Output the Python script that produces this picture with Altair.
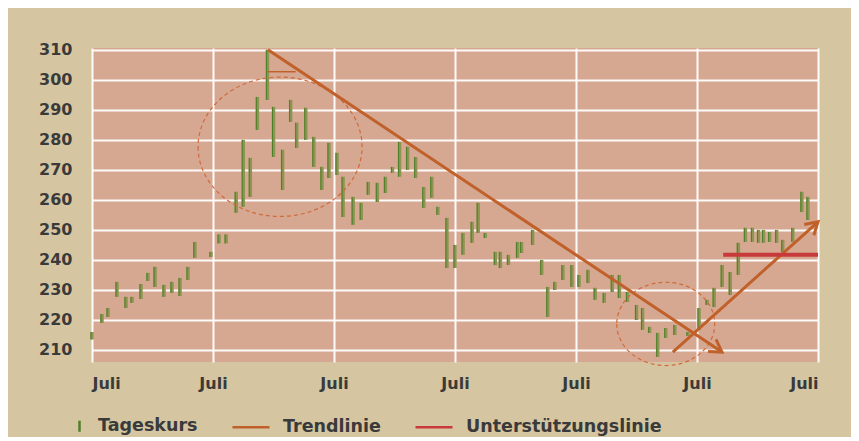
import altair as alt
import pandas as pd

# ---- daily price bars (month index from first "Juli", low, high) ----
bar_month = [0.0, 0.99, 1.59, 2.48, 3.37, 3.97, 4.86, 5.55, 6.25, 7.14, 7.93, 8.73, 9.52, 10.2,
             11.8, 12.6, 13.3, 14.3, 15.0, 15.7, 16.4, 17.4, 18.0, 18.9, 19.7, 20.3, 21.2, 22.0,
             22.8, 23.5, 24.3, 24.9, 25.9, 26.7, 27.4, 28.3, 29.1, 29.8, 30.5, 31.3, 32.1, 32.9,
             33.7, 34.3, 35.2, 36.0, 36.8, 37.7, 38.3, 39.0, 40.0, 40.5, 41.3, 42.2, 42.6, 43.7,
             44.6, 45.2, 45.9, 46.7, 47.6, 48.3, 49.2, 49.9, 50.8, 51.6, 52.3, 53.1, 54.0, 54.6,
             55.3, 56.1, 56.9, 57.8, 59.1, 60.2, 61.0, 61.7, 62.5, 63.3, 64.1, 64.8, 65.5, 66.1,
             66.6, 67.2, 67.9, 68.5, 69.5, 70.4, 71.0]
bar_low = [213.5, 219, 221, 227.7, 224, 225.7, 227, 233, 231, 227.7, 229, 228, 233.3, 240.7,
           241, 245.5, 245.5, 255.7, 257.7, 261, 283.3, 293.3, 274.3, 263.3, 286, 277.3, 280, 271,
           263.3, 267.3, 268.3, 254.3, 251.7, 253.3, 261.7, 259.3, 262.3, 269, 267.7, 270, 267.3, 257.3,
           260.7, 255, 237.3, 237.3, 241.7, 245.7, 249, 247.3, 238.3, 237.3, 238.3, 240.7, 242.3, 245,
           235, 221, 230, 233.3, 231, 231, 232.3, 226.7, 225.7, 229.3, 227.3, 226, 220, 216.7,
           215.7, 207.7, 214, 215, 214.7, 216.7, 225, 224.3, 231, 228.3, 235, 246, 246, 245.7,
           245.7, 246, 245.7, 242.7, 246, 256, 253.3]
bar_high = [216, 222, 224, 232.7, 227.7, 227.7, 232, 235.7, 237.7, 231.7, 232.7, 234, 237.7, 246,
            242.7, 248.5, 248.5, 262.7, 280, 274, 294.3, 310, 291, 276.7, 293.3, 285.7, 290.7, 281,
            271, 279, 275.7, 267.7, 261, 259, 266, 265.7, 267.7, 271, 279.3, 277.7, 274.3, 264.3,
            267.7, 257.7, 254, 245, 249, 252.7, 259, 249, 242.7, 242.7, 241.7, 246, 246, 250,
            240, 231, 232.7, 238.3, 238.3, 235, 236.7, 230.7, 229, 235, 235, 229.3, 225, 224,
            217.7, 215.7, 217.3, 218.3, 216, 224, 226.7, 230.7, 238.3, 236, 245.7, 250.7, 250.7, 250,
            250, 249.3, 250, 246.7, 250.7, 262.7, 261]

# ---- annotation lines ----
trend_month = [17.45, 62.48]
trend_value = [310.0, 209.3]
rise_month = [57.6, 72.0]
rise_value = [209.3, 252.7]
support_month = [62.6, 72.0]
support_value = [241.7, 241.7]
peak_month = [17.4, 20.2]
peak_value = [302.7, 302.7]
arrow_month = [62.48, 72.0]
arrow_value = [209.3, 252.7]
circle_month = [18.65, 56.9]
circle_value = [277.7, 218.7]

# ---- labels ----
y_ticks = [210, 220, 230, 240, 250, 260, 270, 280, 290, 300, 310]
x_ticks = [0, 12, 24, 36, 48, 60, 72]
x_label = "Juli"
legend_names = ["Tageskurs", "Trendlinie", "Unterstützungslinie"]

# colours / styles
OUTER = "#d5c6a1"
PLOT = "#d6a891"
BAR = "#8e9452"
BAR_LINE = "#4e7f2c"
TREND = "#c0602a"
SUPPORT = "#c8393b"
TEXT = "#3a3a3a"
FONT = "DejaVu Sans"

bars = pd.DataFrame({"m": bar_month, "lo": bar_low, "hi": bar_high})
lines = pd.DataFrame({
    "m": trend_month + rise_month,
    "v": trend_value + rise_value,
    "id": ["down", "down", "up", "up"],
})
support = pd.DataFrame({"m": support_month, "v": support_value})
peak = pd.DataFrame({"m": peak_month, "v": peak_value})
arrows = pd.DataFrame({"m": arrow_month, "v": arrow_value, "ang": [33.6, 318.1]})
circles = pd.DataFrame({"m": circle_month, "v": circle_value, "s": [164 ** 2, 98 ** 2]})
legend_df = pd.DataFrame({"series": legend_names})

x_scale = alt.Scale(domain=[0, 72], nice=False, zero=False)
y_scale = alt.Scale(domain=[206, 310.6], nice=False, zero=False)

x_axis = alt.Axis(values=x_ticks, labelExpr=f"'{x_label}'", title=None, grid=True,
                  tickCount=20, labelOverlap=False,
                  ticks=False, domain=False, labelPadding=13, labelFontSize=16,
                  labelFontWeight="bold", labelColor=TEXT, labelFont=FONT,
                  gridColor="white", gridWidth=2, gridOpacity=0.95)
y_axis = alt.Axis(values=y_ticks, title=None, grid=True, ticks=False, domain=False,
                  tickCount=20, labelOverlap=False,
                  labelPadding=20, labelFontSize=16, labelColor=TEXT, labelFont=FONT,
                  labelFontWeight="bold",
                  gridColor="white", gridWidth=2, gridOpacity=0.95)

X = alt.X("m:Q", scale=x_scale, axis=x_axis)
Y = alt.Y("v:Q", scale=y_scale, axis=y_axis)

bar_layer = alt.Chart(bars).mark_rule(color=BAR, strokeWidth=3.5).encode(
    x=alt.X("m:Q", scale=x_scale, axis=x_axis),
    y=alt.Y("lo:Q", scale=y_scale, axis=y_axis),
    y2="hi:Q",
)
bar_line_layer = alt.Chart(bars).mark_rule(color=BAR_LINE, strokeWidth=1, xOffset=-1).encode(
    x="m:Q", y="lo:Q", y2="hi:Q",
)

trend_layer = alt.Chart(lines).mark_line(color=TREND, strokeWidth=3).encode(
    x=X, y=Y, detail="id:N"
)
peak_layer = alt.Chart(peak).mark_line(color=TREND, strokeWidth=1.5).encode(x="m:Q", y="v:Q")
support_layer = alt.Chart(support).mark_line(color=SUPPORT, strokeWidth=4).encode(x="m:Q", y="v:Q")

arrow_layer = alt.Chart(arrows).mark_point(
    shape="M-1,-0.6L0,0L-1,0.6", filled=False, color=TREND, strokeWidth=3, size=576, opacity=1
).encode(x="m:Q", y="v:Q", angle=alt.Angle("ang:Q", scale=None))

circle_layer = alt.Chart(circles).mark_point(
    shape="M-1,0A1,0.85,0,1,0,1,0A1,0.85,0,1,0,-1,0", filled=False, color="#d06a3a",
    strokeWidth=1.2, strokeDash=[4, 3], opacity=1
).encode(x="m:Q", y="v:Q", size=alt.Size("s:Q", scale=None))

legend_layer = alt.Chart(legend_df).mark_point(filled=False, strokeWidth=3, size=1369).encode(
    x=alt.value(-3000),
    y=alt.value(-3000),
    color=alt.Color("series:N",
                    scale=alt.Scale(domain=legend_names, range=[BAR_LINE, TREND, SUPPORT]),
                    legend=alt.Legend(title=None, orient="none", legendX=-46, legendY=358,
                                      direction="horizontal", columns=3, symbolSize=1369,
                                      symbolStrokeWidth=2.5, labelFontSize=17.5,
                                      labelFont=FONT, labelColor=TEXT, labelFontWeight="bold",
                                      labelLimit=400,
                                      labelOffset=12, columnPadding=29, symbolOpacity=1)),
    shape=alt.Shape("series:N",
                    scale=alt.Scale(domain=legend_names,
                                    range=["M0.73,-0.3L0.73,0.3", "M-1,0L1,0", "M-1,0L1,0"]),
                    legend=alt.Legend(title=None)),
)

chart = alt.layer(
    bar_layer, bar_line_layer, circle_layer, peak_layer, trend_layer, support_layer,
    arrow_layer, legend_layer
).properties(
    width=726,
    height=314,
    background=OUTER,
    padding={"left": 84, "top": 40, "right": 33, "bottom": 75},
    autosize=alt.AutoSizeParams(type="none"),
).configure_view(fill=PLOT, stroke=None)

chart.save("out.html", embed_options={"renderer": "svg", "actions": False})
